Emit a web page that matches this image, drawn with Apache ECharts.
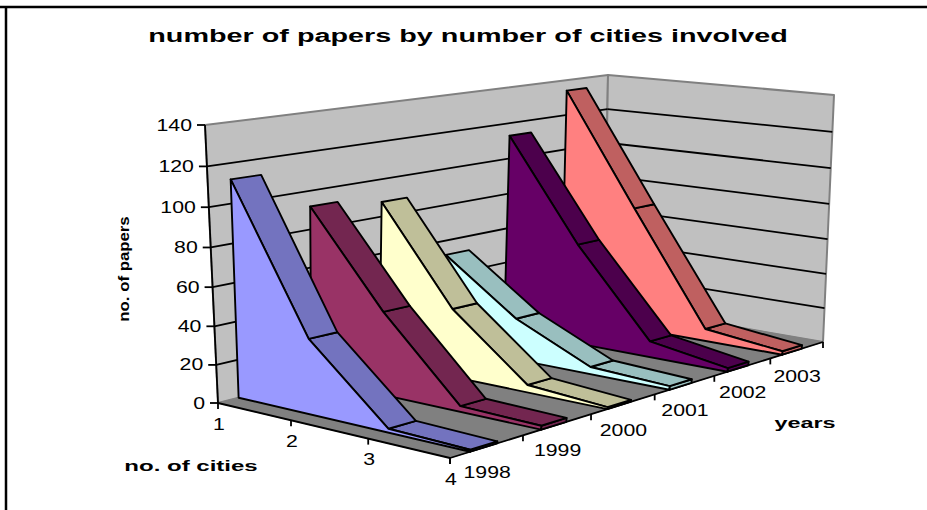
<!DOCTYPE html>
<html>
<head>
<meta charset="utf-8">
<style>html,body{margin:0;padding:0;background:#fff}#c{width:927px;height:510px}</style>
<script src="https://cdn.jsdelivr.net/npm/echarts@6/dist/echarts.min.js"></script>
</head>
<body>
<div id="c"></div>
<script>
// ---- data ----
const cities = ['1', '2', '3', '4'];
const years = ['1998', '1999', '2000', '2001', '2002', '2003'];
const valueTicks = [0, 20, 40, 60, 80, 100, 120, 140];
const papers1998 = [112, 39, 2, 1];
const papers1999 = [92, 44, 3, 2];
const papers2000 = [88, 37, 4, 1];
const papers2001 = [52, 23, 4, 2];
const papers2002 = [113, 57, 9, 2];
const papers2003 = [134, 71, 7, 2];
const allPapers = [papers1998, papers1999, papers2000, papers2001, papers2002, papers2003];
const faceColors = ['#9999FF', '#993366', '#FFFFCC', '#CCFFFF', '#660066', '#FF8080'];
const topColors = ['#7373BF', '#732650', '#BFBF99', '#99BFBF', '#4C004C', '#BF6060'];

// ---- the 3D box of the chart: a perspective view ----
const FONT = '"Liberation Sans", Arial, sans-serif';
const VMAX = 140;
const FLOOR = [[218, 403], [450, 458], [823, 342], [604, 304]];
const ROOF = [[205, 125], [446.5, 161], [834, 95], [608, 75]];
const SERIES_STEP = 0.99, GAP_FRONT = 0.27, GAP_BACK = 0.64;
const RISE = 1.05;

function squareToQuad(q) {
  const [x0, y0] = q[0], [x1, y1] = q[1], [x2, y2] = q[2], [x3, y3] = q[3];
  const dx1 = x1 - x2, dx2 = x3 - x2, sx = x0 - x1 + x2 - x3;
  const dy1 = y1 - y2, dy2 = y3 - y2, sy = y0 - y1 + y2 - y3;
  const det = dx1 * dy2 - dx2 * dy1;
  const g = (sx * dy2 - dx2 * sy) / det, h = (dx1 * sy - sx * dy1) / det;
  const a = x1 - x0 + g * x1, b = x3 - x0 + h * x3, d = y1 - y0 + g * y1, e = y3 - y0 + h * y3;
  return (u, v) => {
    const w = g * u + h * v + 1;
    return [(a * u + b * v + x0) / w, (d * u + e * v + y0) / w];
  };
}
const floorMap = squareToQuad(FLOOR), roofMap = squareToQuad(ROOF);
function project(city, depth, value) {
  const u = city / (cities.length - 1), s = depth / years.length, v = value / VMAX;
  const t = v / (RISE + (1 - RISE) * v);
  const p = floorMap(u, s), r = roofMap(u, s);
  return [p[0] + (r[0] - p[0]) * t, p[1] + (r[1] - p[1]) * t];
}
function poly(points, fill, stroke, lw) {
  return { type: 'polygon', shape: { points }, style: { fill, stroke, lineWidth: lw, lineJoin: 'round' } };
}
function seg(a, b, w) {
  return { type: 'line', shape: { x1: a[0], y1: a[1], x2: b[0], y2: b[1] }, style: { stroke: '#000', lineWidth: w || 1.8 } };
}
function label(text, p, align) {
  return { type: 'text', x: p[0], y: p[1], scaleX: 1.33, scaleY: 1,
    style: { text, fill: '#000', font: '16px ' + FONT, align: align, verticalAlign: 'middle' } };
}

const base = { type: 'custom', coordinateSystem: 'cartesian2d', silent: true, animation: false, clip: false };

const wallSeries = Object.assign({}, base, {
  name: 'walls', data: [[0, 0]],
  renderItem(params, api) {
    const P = (c, d, v) => api.coord(project(c, d, v));
    const n = cities.length - 1, m = years.length;
    return { type: 'group', children: [
      poly([P(0,0,0), P(0,m,0), P(0,m,VMAX), P(0,0,VMAX)], '#C0C0C0', '#808080', 2),
      poly([P(0,m,0), P(n,m,0), P(n,m,VMAX), P(0,m,VMAX)], '#C0C0C0', '#808080', 2),
      poly([P(0,0,0), P(n,0,0), P(n,m,0), P(0,m,0)], '#808080', '#808080', 1),
      seg(P(0,0,0), P(n,0,0)), seg(P(n,0,0), P(n,m,0)), seg(P(0,0,0), P(0,0,VMAX))
    ] };
  }
});

const gridSeries = Object.assign({}, base, {
  name: 'value axis', data: valueTicks.map(v => [v, v]),
  renderItem(params, api) {
    const v = api.value(0);
    const P = (c, d) => api.coord(project(c, d, v));
    const n = cities.length - 1, m = years.length;
    const edge = P(0, 0);
    const kids = [seg([edge[0] - 8, edge[1]], edge),
      label(String(v), [edge[0] - 13, edge[1]], 'right')];
    if (v > 0 && v < VMAX) { kids.push(seg(edge, P(0, m)), seg(P(0, m), P(n, m))); }
    return { type: 'group', children: kids };
  }
});

const cityAxis = Object.assign({}, base, {
  name: 'city axis', data: cities.map((c, i) => [i, i]),
  renderItem(params, api) {
    const i = api.value(0);
    const p = api.coord(project(i, 0, 0));
    return { type: 'group', children: [
      seg(p, [p[0], p[1] + 6]),
      label(cities[i], [p[0] + 1, p[1] + 21], 'center')
    ] };
  }
});

const yearAxis = Object.assign({}, base, {
  name: 'year axis', data: years.concat(['']).map((y, i) => [i, i]),
  renderItem(params, api) {
    const i = api.value(0);
    const n = cities.length - 1;
    const p = api.coord(project(n, i, 0));
    const kids = [seg(p, [p[0], p[1] + 6])];
    if (i < years.length) {
      const q = api.coord(project(n, i + 0.5, 0));
      kids.push(label(years[i], [q[0], q[1] + 26], 'center'));
    }
    return { type: 'group', children: kids };
  }
});

const areaSeries = years.map((y, i) => i).reverse().map(i => Object.assign({}, base, {
  name: years[i],
  data: [[i].concat(allPapers[i])],
  encode: { x: 0, y: 1 },
  renderItem(params, api) {
    const k = api.value(0);
    const vals = cities.map((c, j) => api.value(j + 1));
    const f = k * SERIES_STEP + GAP_FRONT, b = k * SERIES_STEP + GAP_BACK;
    const P = (c, d, v) => api.coord(project(c, d, v));
    const n = cities.length - 1;
    const kids = [];
    kids.push(poly([P(n, f, 0), P(n, b, 0), P(n, b, vals[n]), P(n, f, vals[n])], topColors[k], '#000', 1.9));
    for (let j = n - 1; j >= 0; j--) {
      kids.push(poly([P(j, f, vals[j]), P(j, b, vals[j]), P(j + 1, b, vals[j + 1]), P(j + 1, f, vals[j + 1])], topColors[k], '#000', 1.9));
    }
    const pts = [P(0, f, 0)];
    vals.forEach((v, j) => pts.push(P(j, f, v)));
    pts.push(P(n, f, 0));
    kids.push(poly(pts, faceColors[k], '#000', 1.9));
    return { type: 'group', children: kids };
  }
}));

function gtext(text, x, y, size, scaleX, rotation) {
  return { type: 'text', x, y, scaleX, scaleY: 1, rotation: rotation || 0, silent: true,
    style: { text, fill: '#000', font: 'bold ' + size + 'px ' + FONT, align: 'center', verticalAlign: 'middle' } };
}

const chart = echarts.init(document.getElementById('c'), null, { renderer: 'svg' });
chart.setOption({
  animation: false,
  backgroundColor: '#fff',
  grid: { left: 0, right: 0, top: 0, bottom: 0 },
  xAxis: { type: 'value', min: 0, max: 927, show: false },
  yAxis: { type: 'value', min: 0, max: 510, inverse: true, show: false },
  graphic: [
    { type: 'line', silent: true, shape: { x1: 0, y1: 7, x2: 927, y2: 7 }, style: { stroke: '#000', lineWidth: 2.5 } },
    { type: 'line', silent: true, shape: { x1: 6, y1: 6, x2: 6, y2: 510 }, style: { stroke: '#000', lineWidth: 2.5 } },
    gtext('number of papers by number of cities involved', 468, 35, 19, 1.515),
    gtext('no. of papers', 124, 269, 14, 1.2, Math.PI / 2),
    gtext('no. of cities', 191, 466, 15, 1.6),
    gtext('years', 805, 423, 15, 1.56)
  ],
  series: [wallSeries, gridSeries].concat(areaSeries, [cityAxis, yearAxis])
});
</script>
</body>
</html>
